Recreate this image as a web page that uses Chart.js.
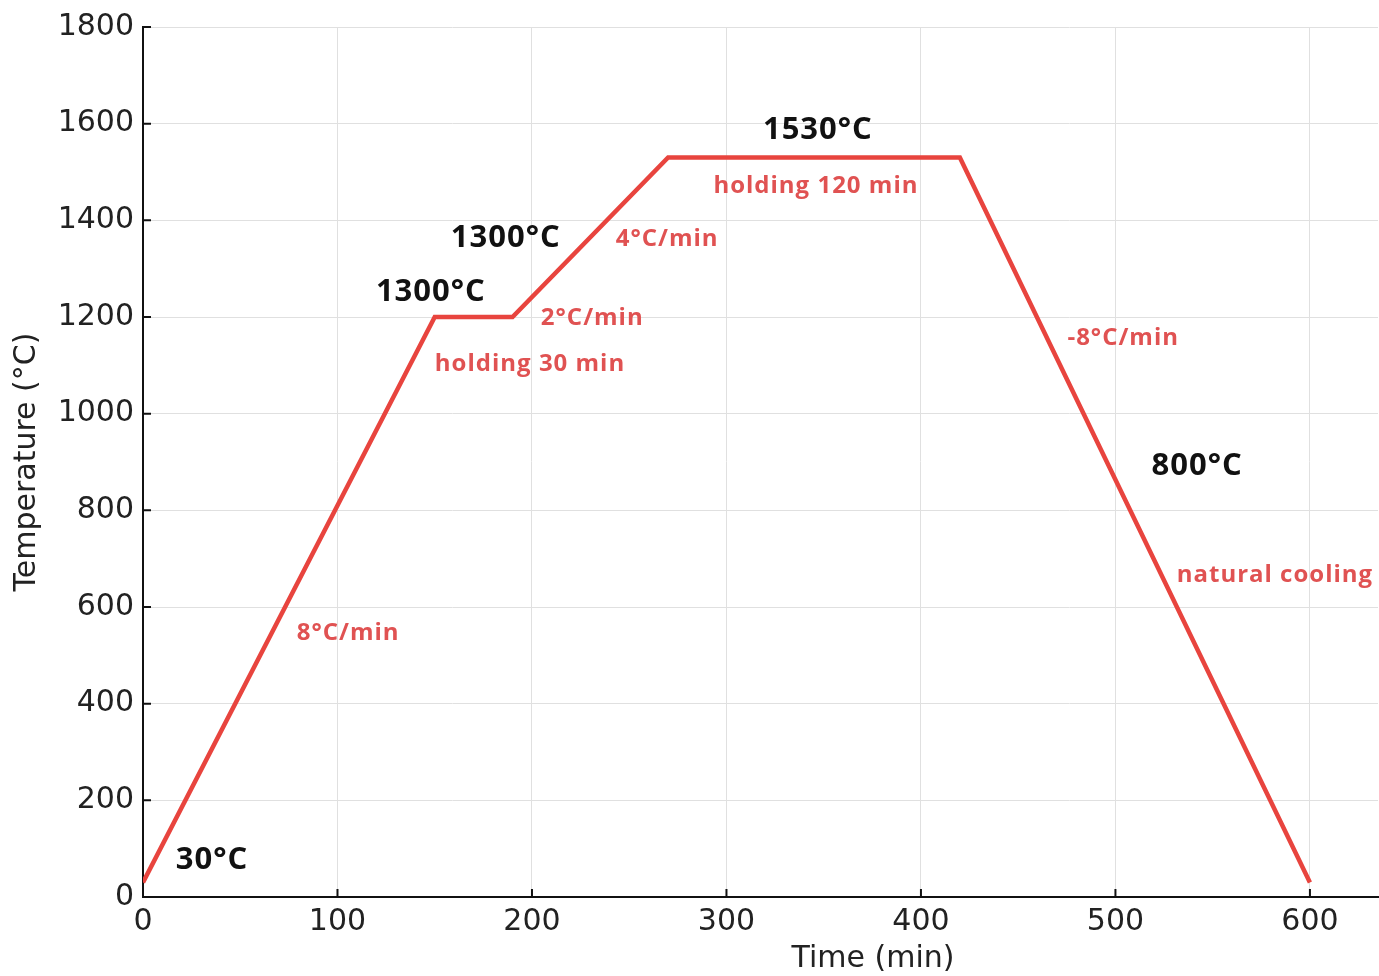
<!DOCTYPE html>
<html>
<head>
<meta charset="utf-8">
<script src="https://cdn.jsdelivr.net/npm/chart.js@4.4.1/dist/chart.umd.min.js"></script>
<style>
  html, body { margin: 0; padding: 0; background: #fff; }
  #wrap { width: 1379px; height: 976px; }
</style>
</head>
<body>
<div id="wrap"><canvas id="heatChart"></canvas></div>
<script>
// Heating schedule
const timeMin = [0, 150, 190, 270, 420, 600];
const tempC = [30, 1200, 1200, 1530, 1530, 30];
const xTicks = [0, 100, 200, 300, 400, 500, 600];
const yTicks = [0, 200, 400, 600, 800, 1000, 1200, 1400, 1600, 1800];

// text labels placed in data coordinates
const labelText = ['30°C', '1300°C', '1300°C', '1530°C', '800°C',
    '8°C/min', 'holding 30 min', '2°C/min', '4°C/min', 'holding 120 min', '-8°C/min', 'natural cooling'];
const labelX = [35.5, 148, 186.5, 347, 542, 105.5, 199, 231, 269.5, 346, 504, 582];
const labelY = [77, 1252, 1363, 1587, 892, 546, 1103, 1198, 1361, 1471, 1157, 666];
const labelBlack = [true, true, true, true, true, false, false, false, false, false, false, false];

const lineRed = '#e8443e';
const textRed = '#e05252';

const annotate = {
    id: 'annotate',
    afterDatasetsDraw(chart) {
        const ctx = chart.ctx;
        const xs = chart.scales.x, ys = chart.scales.y;
        ctx.save();
        ctx.textAlign = 'center';
        ctx.textBaseline = 'middle';
        ctx.letterSpacing = '1px';
        labelText.forEach((t, i) => {
            const px = xs.getPixelForValue(labelX[i]);
            const py = ys.getPixelForValue(labelY[i]);
            if (labelBlack[i]) {
                ctx.fillStyle = '#111';
                ctx.font = 'bold 31px "Open Sans", "Noto Sans", sans-serif';
            } else {
                ctx.fillStyle = textRed;
                ctx.font = 'bold 24px "Open Sans", "Noto Sans", sans-serif';
            }
            ctx.fillText(t, px, py);
        });
        ctx.letterSpacing = '0px';

        // inward tick marks
        ctx.strokeStyle = '#111';
        ctx.lineWidth = 2;
        ctx.beginPath();
        xTicks.forEach(v => {
            const px = xs.getPixelForValue(v);
            ctx.moveTo(px, ys.bottom);
            ctx.lineTo(px, ys.bottom - 8);
        });
        yTicks.forEach(v => {
            const py = ys.getPixelForValue(v);
            ctx.moveTo(xs.left, py);
            ctx.lineTo(xs.left + 8, py);
        });
        ctx.stroke();

        // x axis title
        ctx.fillStyle = '#222';
        ctx.font = '30px "DejaVu Sans", sans-serif';
        ctx.fillText('Time (min)', 873, 959);
        ctx.restore();
    }
};

const ctxHeat = document.getElementById('heatChart').getContext('2d');
const heatChart = new Chart(ctxHeat, {
    type: 'line',
    data: {
        datasets: [{
            label: 'Temperature',
            data: timeMin.map((t, i) => ({ x: t, y: tempC[i] })),
            borderColor: lineRed,
            borderWidth: 4.5,
            pointRadius: 0,
            tension: 0,
            borderJoinStyle: 'miter'
        }]
    },
    options: {
        responsive: true,
        maintainAspectRatio: false,
        animation: false,
        layout: { padding: { top: 27, right: 1, left: 0, bottom: 0 } },
        plugins: {
            legend: { display: false },
            tooltip: { enabled: false }
        },
        scales: {
            x: {
                type: 'linear',
                min: 0,
                max: 635,
                afterBuildTicks: s => { s.ticks = xTicks.map(v => ({ value: v })); },
                afterFit: s => { s.height = 79; },
                ticks: {
                    color: '#222',
                    font: { family: 'DejaVu Sans', size: 30 },
                    padding: 7,
                    maxRotation: 0,
                    callback: v => String(v)
                },
                grid: { color: '#e0e0e0', lineWidth: 1, drawTicks: false },
                border: { color: '#111', width: 2 }
            },
            y: {
                min: 0,
                max: 1800,
                afterBuildTicks: s => { s.ticks = yTicks.map(v => ({ value: v })); },
                afterFit: s => { s.width = 143; },
                ticks: {
                    color: '#222',
                    font: { family: 'DejaVu Sans', size: 30 },
                    padding: 9,
                    callback: v => String(v)
                },
                grid: { color: '#e0e0e0', lineWidth: 1, drawTicks: false },
                border: { color: '#111', width: 2 },
                title: {
                    display: true,
                    text: 'Temperature (°C)',
                    color: '#222',
                    font: { family: 'DejaVu Sans', size: 30 },
                    padding: { top: 9, bottom: 0 }
                }
            }
        }
    },
    plugins: [annotate]
});
</script>
</body>
</html>
